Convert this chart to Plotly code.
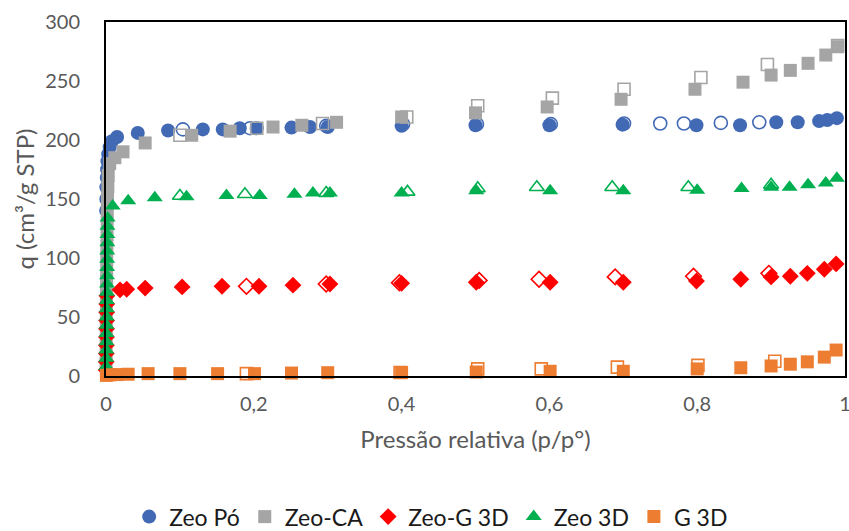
import plotly.graph_objects as go

# Adsorption (filled) and desorption (open) branches, relative pressure p/p°
zeo_po_ads_x = [0.0002, 0.0004, 0.0006, 0.001, 0.0015, 0.002, 0.003, 0.005, 0.008, 0.015,
                0.043, 0.084, 0.131, 0.158, 0.181, 0.204, 0.251, 0.276, 0.3, 0.4,
                0.5, 0.6, 0.699, 0.799, 0.858, 0.907, 0.936, 0.965, 0.976, 0.989]
zeo_po_ads_y = [140, 150, 160, 168, 175, 182, 188, 194, 199, 202.5,
                206, 208, 209, 209, 210, 210, 210.5, 211, 211, 212,
                212.5, 212.5, 213, 212.5, 212.5, 215, 215, 216, 217, 218.5]
zeo_po_des_x = [0.104, 0.195, 0.298, 0.402, 0.502, 0.602, 0.701, 0.75, 0.782, 0.832, 0.884]
zeo_po_des_y = [209, 210, 212, 213.5, 213.5, 213.5, 214, 214, 214, 214.5, 215]

zeo_ca_ads_x = [0.0001, 0.0002, 0.0003, 0.0004, 0.0005, 0.0006, 0.0007, 0.0008, 0.0009,
                0.001, 0.0012, 0.0014, 0.0016, 0.0018, 0.002, 0.0025, 0.003,
                0.005, 0.012, 0.023, 0.053, 0.116, 0.168, 0.226, 0.265, 0.312, 0.4,
                0.5, 0.597, 0.697, 0.797, 0.862, 0.9, 0.926, 0.95, 0.974, 0.99]
zeo_ca_ads_y = [10, 20, 30, 40, 50, 60, 70, 80, 90,
                100, 110, 120, 130, 140, 150, 160, 170,
                180, 185, 190, 197.5, 204, 207.5, 211, 212.5, 215, 219.5,
                223, 228, 234.5, 243, 249, 255, 259, 265, 272, 279]
zeo_ca_des_x = [0.1, 0.204, 0.293, 0.407, 0.503, 0.604, 0.701, 0.805, 0.895, 0.99]
zeo_ca_des_y = [204, 210, 214, 219.5, 229, 235.5, 243, 253, 264, 280]

zeo_g3d_ads_x = [0.0002, 0.0003, 0.0004, 0.0005, 0.0006, 0.0007, 0.0008, 0.0009, 0.001, 0.0012,
                 0.019, 0.028, 0.053, 0.103, 0.157, 0.207, 0.253, 0.303, 0.4,
                 0.501, 0.601, 0.7, 0.799, 0.859, 0.9, 0.926, 0.949, 0.972, 0.988]
zeo_g3d_ads_y = [5, 12, 19, 26, 33, 40, 47, 54, 61, 68,
                 73, 73.5, 74.5, 75.5, 76, 76, 77, 78, 78.5,
                 79.5, 79.5, 79.5, 80.5, 82, 84, 84.5, 87, 90.5, 95]
zeo_g3d_des_x = [0.19, 0.298, 0.397, 0.505, 0.586, 0.689, 0.795, 0.897]
zeo_g3d_des_y = [76, 78, 79, 81, 82, 84, 84.5, 87]

zeo_3d_ads_x = [0.0003, 0.0004, 0.0005, 0.0006, 0.0007, 0.0008, 0.0009, 0.001, 0.0011, 0.0012,
                0.0013, 0.0014, 0.0015, 0.0016, 0.0017, 0.0018, 0.0019, 0.002, 0.0022,
                0.009, 0.03, 0.066, 0.109, 0.163, 0.208, 0.255, 0.28, 0.303, 0.4,
                0.501, 0.601, 0.7, 0.8, 0.86, 0.9, 0.925, 0.95, 0.974, 0.989]
zeo_3d_ads_y = [8, 15, 22, 29, 36, 43, 50, 57, 64, 71,
                78, 85, 92, 99, 106, 113, 120, 127, 134,
                144, 148.5, 151, 152, 153, 153, 154, 155, 155, 155,
                157, 157, 157, 157.5, 159, 160, 160, 162, 163.5, 167.5]
zeo_3d_des_x = [0.1, 0.188, 0.298, 0.408, 0.503, 0.583, 0.685, 0.788, 0.9]
zeo_3d_des_y = [152.5, 154, 155, 156, 159, 160, 160, 160, 162]

g3d_ads_x = [0.0005, 0.005, 0.015, 0.03, 0.057, 0.1, 0.151, 0.201, 0.251, 0.3, 0.4,
             0.501, 0.601, 0.7, 0.8, 0.859, 0.9, 0.926, 0.949, 0.972, 0.988]
g3d_ads_y = [0.5, 1, 1.2, 1.5, 2, 2, 2, 2, 2.5, 2.8, 3,
             3.4, 4, 4, 6, 7, 8.5, 10, 12, 16, 22]
g3d_des_x = [0.19, 0.398, 0.503, 0.589, 0.692, 0.801, 0.905]
g3d_des_y = [2, 3, 6, 6, 7.5, 9, 12.5]

series = [
    ("Zeo Pó", "#4169b4", "circle", zeo_po_ads_x, zeo_po_ads_y, zeo_po_des_x, zeo_po_des_y),
    ("Zeo-CA", "#a5a5a5", "square", zeo_ca_ads_x, zeo_ca_ads_y, zeo_ca_des_x, zeo_ca_des_y),
    ("Zeo-G 3D", "#ff0000", "diamond", zeo_g3d_ads_x, zeo_g3d_ads_y, zeo_g3d_des_x, zeo_g3d_des_y),
    ("Zeo 3D", "#00b050", "triangle-up", zeo_3d_ads_x, zeo_3d_ads_y, zeo_3d_des_x, zeo_3d_des_y),
    ("G 3D", "#ed7d31", "square", g3d_ads_x, g3d_ads_y, g3d_des_x, g3d_des_y),
]

sizes = {"circle": 14, "square": 13, "diamond": 13, "triangle-up": 14}

fig = go.Figure()
for name, color, sym, ax, ay, dx, dy in series:
    fig.add_trace(go.Scatter(
        x=ax, y=ay, mode="markers", name=name, cliponaxis=False,
        marker=dict(symbol=sym, size=sizes[sym], color=color, line=dict(width=0)),
    ))
    fig.add_trace(go.Scatter(
        x=dx, y=dy, mode="markers", name=name + " (des.)", showlegend=False, cliponaxis=False,
        marker=dict(symbol=sym + "-open", size=sizes[sym] - 1, color=color,
                    line=dict(width=1.6, color=color)),
    ))

font_family = "Lato, 'Open Sans', sans-serif"
axis_common = dict(
    showgrid=False, zeroline=False, showline=True, linecolor="black", linewidth=2,
    mirror=True, ticks="", automargin=False, ticklabeloverflow="allow",
    tickfont=dict(family=font_family, size=20, color="#595959"),
)

fig.update_layout(
    width=849, height=531,
    margin=dict(l=106, r=4, t=22, b=155, autoexpand=False),
    paper_bgcolor="white", plot_bgcolor="white",
    font=dict(family=font_family, color="#595959"),
    xaxis=dict(range=[0, 1], tickvals=[0, 0.2, 0.4, 0.6, 0.8, 1],
               ticktext=["0", "0,2", "0,4", "0,6", "0,8", "1"],
               ticklabelstandoff=9,
               title=dict(text="Pressão relativa (p/p°)", font=dict(size=24, color="#595959"),
                          standoff=17),
               **axis_common),
    yaxis=dict(range=[0, 300], tickvals=[0, 50, 100, 150, 200, 250, 300],
               ticklabelstandoff=20,
               title=dict(text="q (cm³/g STP)", font=dict(size=24, color="#595959"), standoff=4),
               **axis_common),
    legend=dict(orientation="h", x=0.44, xanchor="center",
                yref="container", y=0.027, yanchor="middle",
                font=dict(family=font_family, size=23, color="#1a1a1a"),
                itemsizing="trace", itemwidth=30, tracegroupgap=0),
    showlegend=True,
)

fig.write_html("out.html")
